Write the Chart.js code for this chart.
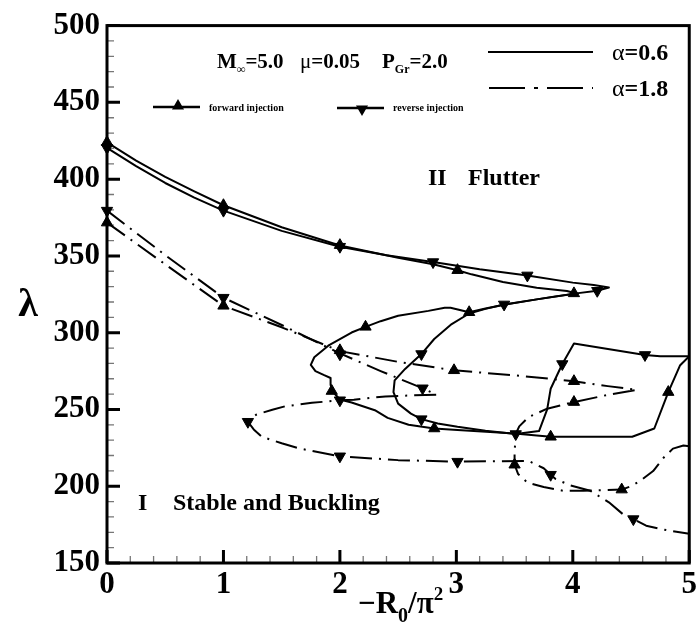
<!DOCTYPE html>
<html>
<head>
<meta charset="utf-8">
<script src="https://cdn.jsdelivr.net/npm/chart.js@4.4.1/dist/chart.umd.min.js"></script>
<style>
  html, body { margin: 0; padding: 0; background: #fff; }
</style>
</head>
<body>
<canvas id="chart" width="700" height="634"></canvas>
<script>
// alpha = 0.6, forward injection (solid line, up triangles)
const fwd06 = [[0,424],[0.25,412],[0.5,401.5],[0.75,392],[1,383],[1.5,368.7],[2,356.8],[2.5,348.8],[2.8,344.6],
  [3.01,340.7],[3.13,338],[3.4,333],[3.69,329.3],[3.95,327.2],[4.03,325.5],[3.85,323.5],[3.69,321.7],[3.41,318.2],
  [3.25,315.8],[3.11,313.3],[2.95,316.2],[2.9,316.3],[2.76,314.2],[2.5,311],[2.35,307.5],[2.22,303.8],[2.1,300.1],
  [1.9,291.5],[1.78,284],[1.75,279],[1.79,275],[1.86,272.5],[1.92,270.5],[1.92,266],[1.94,261.5],[2,256.5],
  [2.1,254.5],[2.3,249.5],[2.41,244.5],[2.59,240],[2.81,237.6],[3.01,236.6],[3.5,234.3],[3.81,232.2],[4.51,232.2],
  [4.7,237.6],[4.82,261.3],[4.92,278.6],[5,284.6]];
const fwd06Marks = [[0,424],[1,383],[2,357],[3.01,340.7],[4.01,325.6],[3.11,313.3],[2.22,303.8],[1.93,262],
  [2.81,237.6],[3.81,232.2],[4.82,261.3]];

// alpha = 0.6, reverse injection (solid line, down triangles)
const rev06 = [[0,420.4],[0.25,408.5],[0.5,397.5],[0.75,388],[1,379.5],[1.5,366.3],[2,356],[2.4,350.5],[2.8,346],
  [3.2,341.3],[3.61,337.3],[4,332.6],[4.18,331],[4.31,329.4],[4.21,327.3],[4.03,325.6],[3.69,321.7],[3.41,318.4],
  [3.25,315.5],[3.11,312.5],[2.96,305.6],[2.81,295.9],[2.7,286.1],[2.56,276.4],[2.47,268.9],[2.46,261.3],[2.5,253.8],
  [2.61,247.3],[2.7,243.7],[2.84,240.8],[3.01,238.7],[3.25,236.2],[3.51,234],[3.71,235.9],[3.78,250],[3.81,263.5],
  [3.91,279.6],[4.01,293],[4.62,285.5],[4.75,284.6],[5,284.6]];
const rev06Marks = [[0,420.4],[1,379.5],[2,356],[2.8,346],[3.61,337.3],[4.21,327.3],[3.41,318.4],[2.7,286.1],
  [2.7,243.7],[3.51,234],[3.91,279.6],[4.62,285.5]];

// alpha = 1.8, forward injection (dash-dot line, up triangles)
const fwd18 = [[0,371.7],[0.5,344.5],[1,317.5],[1.5,303.5],[2,288],[2.5,281],[2.98,275.5],[3.52,272.1],[4.01,268.4],
  [4.3,265.2],[4.55,262.8],[4.3,259.5],[4.01,254.8],[3.78,250.5],[3.62,245],[3.54,239],[3.51,234],[3.5,222],[3.5,214],
  [3.53,208],[3.61,202.4],[3.75,199.5],[3.92,197],[4.09,197],[4.42,197.8],[4.5,200],[4.58,203.5],[4.69,209.9],
  [4.78,218.6],[4.86,224.5],[4.95,226.5],[5,226]];
const fwd18Marks = [[0,371.7],[1,317.5],[2,288.5],[2.98,275.5],[4.01,268.4],[4.01,254.8],[3.5,214],[4.42,197.8]];

// alpha = 1.8, reverse injection (dash-dot line, down triangles)
const rev18 = [[0,379.5],[0.5,350.5],[1,322.8],[1.5,305],[2,286.5],[2.35,275],[2.71,263.8],[2.83,259.6],[2.64,259.2],
  [2.39,258.5],[2.12,256.4],[2,256],[1.76,254.3],[1.53,252.1],[1.42,249.8],[1.28,246.6],[1.21,242],[1.26,237],
  [1.33,232.2],[1.5,228],[1.65,224.6],[2,219.5],[2.5,217],[3.01,216],[3.62,216.5],[3.75,211.7],[3.81,207.5],
  [3.85,204.8],[3.98,200.5],[4.15,197],[4.31,189.5],[4.43,181.8],[4.52,178.6],[4.63,174.3],[4.75,172.2],
  [4.83,171.1],[5,169]];
const rev18Marks = [[0,379.5],[1,322.8],[2,286],[2.71,263.8],[2,256],[1.21,242],[2,219.5],[3.01,216],[3.81,207.5],
  [4.52,178.6]];

const SERIF = '"Liberation Serif", "Times New Roman", serif';
const DASHDOT = [22, 7, 2, 7];

function curve(data, dash) {
  return { data: data, showLine: true, borderColor: '#000', borderWidth: 2, borderDash: dash,
    pointRadius: 0, tension: 0, clip: false, borderJoinStyle: 'round' };
}
function marks(data, rot) {
  return { data: data, showLine: false, pointStyle: 'triangle', pointRotation: rot, pointRadius: 6.5,
    pointBackgroundColor: '#000', pointBorderColor: '#000', pointBorderWidth: 1, clip: false };
}

// write text pieces one after another: [text, size, dy, weight]
function run(ctx, parts, x, y) {
  parts.forEach(p => {
    ctx.font = (p[3] || 'bold') + ' ' + p[1] + 'px ' + SERIF;
    ctx.fillText(p[0], x, y + (p[2] || 0));
    x += ctx.measureText(p[0]).width;
  });
  return x;
}
function tri(ctx, x, y, r, down) {
  const s = down ? -1 : 1;
  ctx.beginPath();
  ctx.moveTo(x, y - s * r);
  ctx.lineTo(x + r * 0.866, y + s * r / 2);
  ctx.lineTo(x - r * 0.866, y + s * r / 2);
  ctx.closePath();
  ctx.fill();
}

const frame = {
  id: 'frame',
  beforeDatasetsDraw(chart) {
    const { ctx, chartArea: a, scales: { x, y } } = chart;
    ctx.save();
    ctx.lineCap = 'butt';
    // minor ticks
    ctx.strokeStyle = '#777';
    ctx.lineWidth = 1.3;
    ctx.beginPath();
    for (let v = 160; v < 500; v += 10) {
      if (v % 50 === 0) continue;
      const py = y.getPixelForValue(v);
      ctx.moveTo(a.left, py); ctx.lineTo(a.left + 7, py);
    }
    for (let i = 1; i < 25; i++) {
      if (i % 5 === 0) continue;
      const px = x.getPixelForValue(i * 0.2);
      ctx.moveTo(px, a.bottom); ctx.lineTo(px, a.bottom - 7);
    }
    ctx.stroke();
    // major ticks
    ctx.strokeStyle = '#000';
    ctx.lineWidth = 3;
    ctx.beginPath();
    y.ticks.forEach(t => {
      const py = y.getPixelForValue(t.value);
      ctx.moveTo(a.left, py); ctx.lineTo(a.left + 13, py);
    });
    x.ticks.forEach(t => {
      const px = x.getPixelForValue(t.value);
      ctx.moveTo(px, a.bottom); ctx.lineTo(px, a.bottom - 13);
    });
    ctx.stroke();
    ctx.lineWidth = 3;
    ctx.strokeRect(a.left, a.top, a.right - a.left, a.bottom - a.top);
    ctx.restore();
  },
  afterDraw(chart) {
    const { ctx } = chart;
    ctx.save();
    ctx.fillStyle = '#000';
    ctx.strokeStyle = '#000';
    ctx.textBaseline = 'alphabetic';
    ctx.textAlign = 'left';

    // axis titles
    ctx.font = 'bold 40px ' + SERIF;
    ctx.textAlign = 'center';
    ctx.fillText('\u03bb', 28, 316);
    ctx.textAlign = 'left';
    run(ctx, [['\u2212R', 31], ['0', 20, 9], ['/\u03c0', 31], ['2', 19, -13]], 358, 613);

    // parameters
    run(ctx, [['M', 21], ['\u221e', 12, 5], ['=5.0', 21]], 217, 68);
    run(ctx, [['\u03bc', 21, 0, 'normal'], ['=0.05', 21]], 300, 68);
    run(ctx, [['P', 21], ['Gr', 12, 5], ['=2.0', 21]], 382, 68);

    // alpha legend
    ctx.lineWidth = 2;
    ctx.beginPath(); ctx.moveTo(488, 52); ctx.lineTo(593, 52); ctx.stroke();
    ctx.setLineDash([36, 9, 4, 9]);
    ctx.beginPath(); ctx.moveTo(489, 88); ctx.lineTo(593, 88); ctx.stroke();
    ctx.setLineDash([]);
    run(ctx, [['\u03b1', 24, 0, 'normal'], ['=0.6', 24]], 612, 60);
    run(ctx, [['\u03b1', 24, 0, 'normal'], ['=1.8', 24]], 612, 96);

    // injection legend
    ctx.lineWidth = 2.5;
    ctx.beginPath(); ctx.moveTo(153, 107); ctx.lineTo(200, 107); ctx.stroke();
    tri(ctx, 178, 106, 7, false);
    ctx.beginPath(); ctx.moveTo(337, 108); ctx.lineTo(384, 108); ctx.stroke();
    tri(ctx, 362, 109, 7, true);
    run(ctx, [['forward injection', 10]], 209, 111);
    run(ctx, [['reverse injection', 10]], 393, 111);

    // regions
    run(ctx, [['II', 24]], 428, 185);
    run(ctx, [['Flutter', 24]], 468, 185);
    run(ctx, [['I', 24]], 138, 510);
    run(ctx, [['Stable and Buckling', 24]], 173, 510);
    ctx.restore();
  }
};

new Chart(document.getElementById('chart'), {
  type: 'scatter',
  data: {
    datasets: [
      curve(fwd06, []), curve(rev06, []), curve(fwd18, DASHDOT), curve(rev18, DASHDOT),
      marks(fwd06Marks, 0), marks(rev06Marks, 180), marks(fwd18Marks, 0), marks(rev18Marks, 180)
    ]
  },
  options: {
    responsive: false,
    devicePixelRatio: 1,
    animation: false,
    events: [],
    layout: { padding: { left: 0, top: 21, right: 7, bottom: 0 } },
    plugins: { legend: { display: false }, tooltip: { enabled: false } },
    scales: {
      x: {
        type: 'linear', min: 0, max: 5,
        afterFit(s) { s.height = 71; },
        border: { display: false },
        grid: { display: false, drawTicks: false },
        ticks: { stepSize: 1, padding: 3, color: '#000', font: { family: SERIF, size: 31, weight: 'bold' } }
      },
      y: {
        type: 'linear', min: 150, max: 500,
        afterFit(s) { s.width = 107; },
        border: { display: false },
        grid: { display: false, drawTicks: false },
        ticks: { stepSize: 50, padding: 7, color: '#000', font: { family: SERIF, size: 31, weight: 'bold' } }
      }
    }
  },
  plugins: [frame]
});
</script>
</body>
</html>
